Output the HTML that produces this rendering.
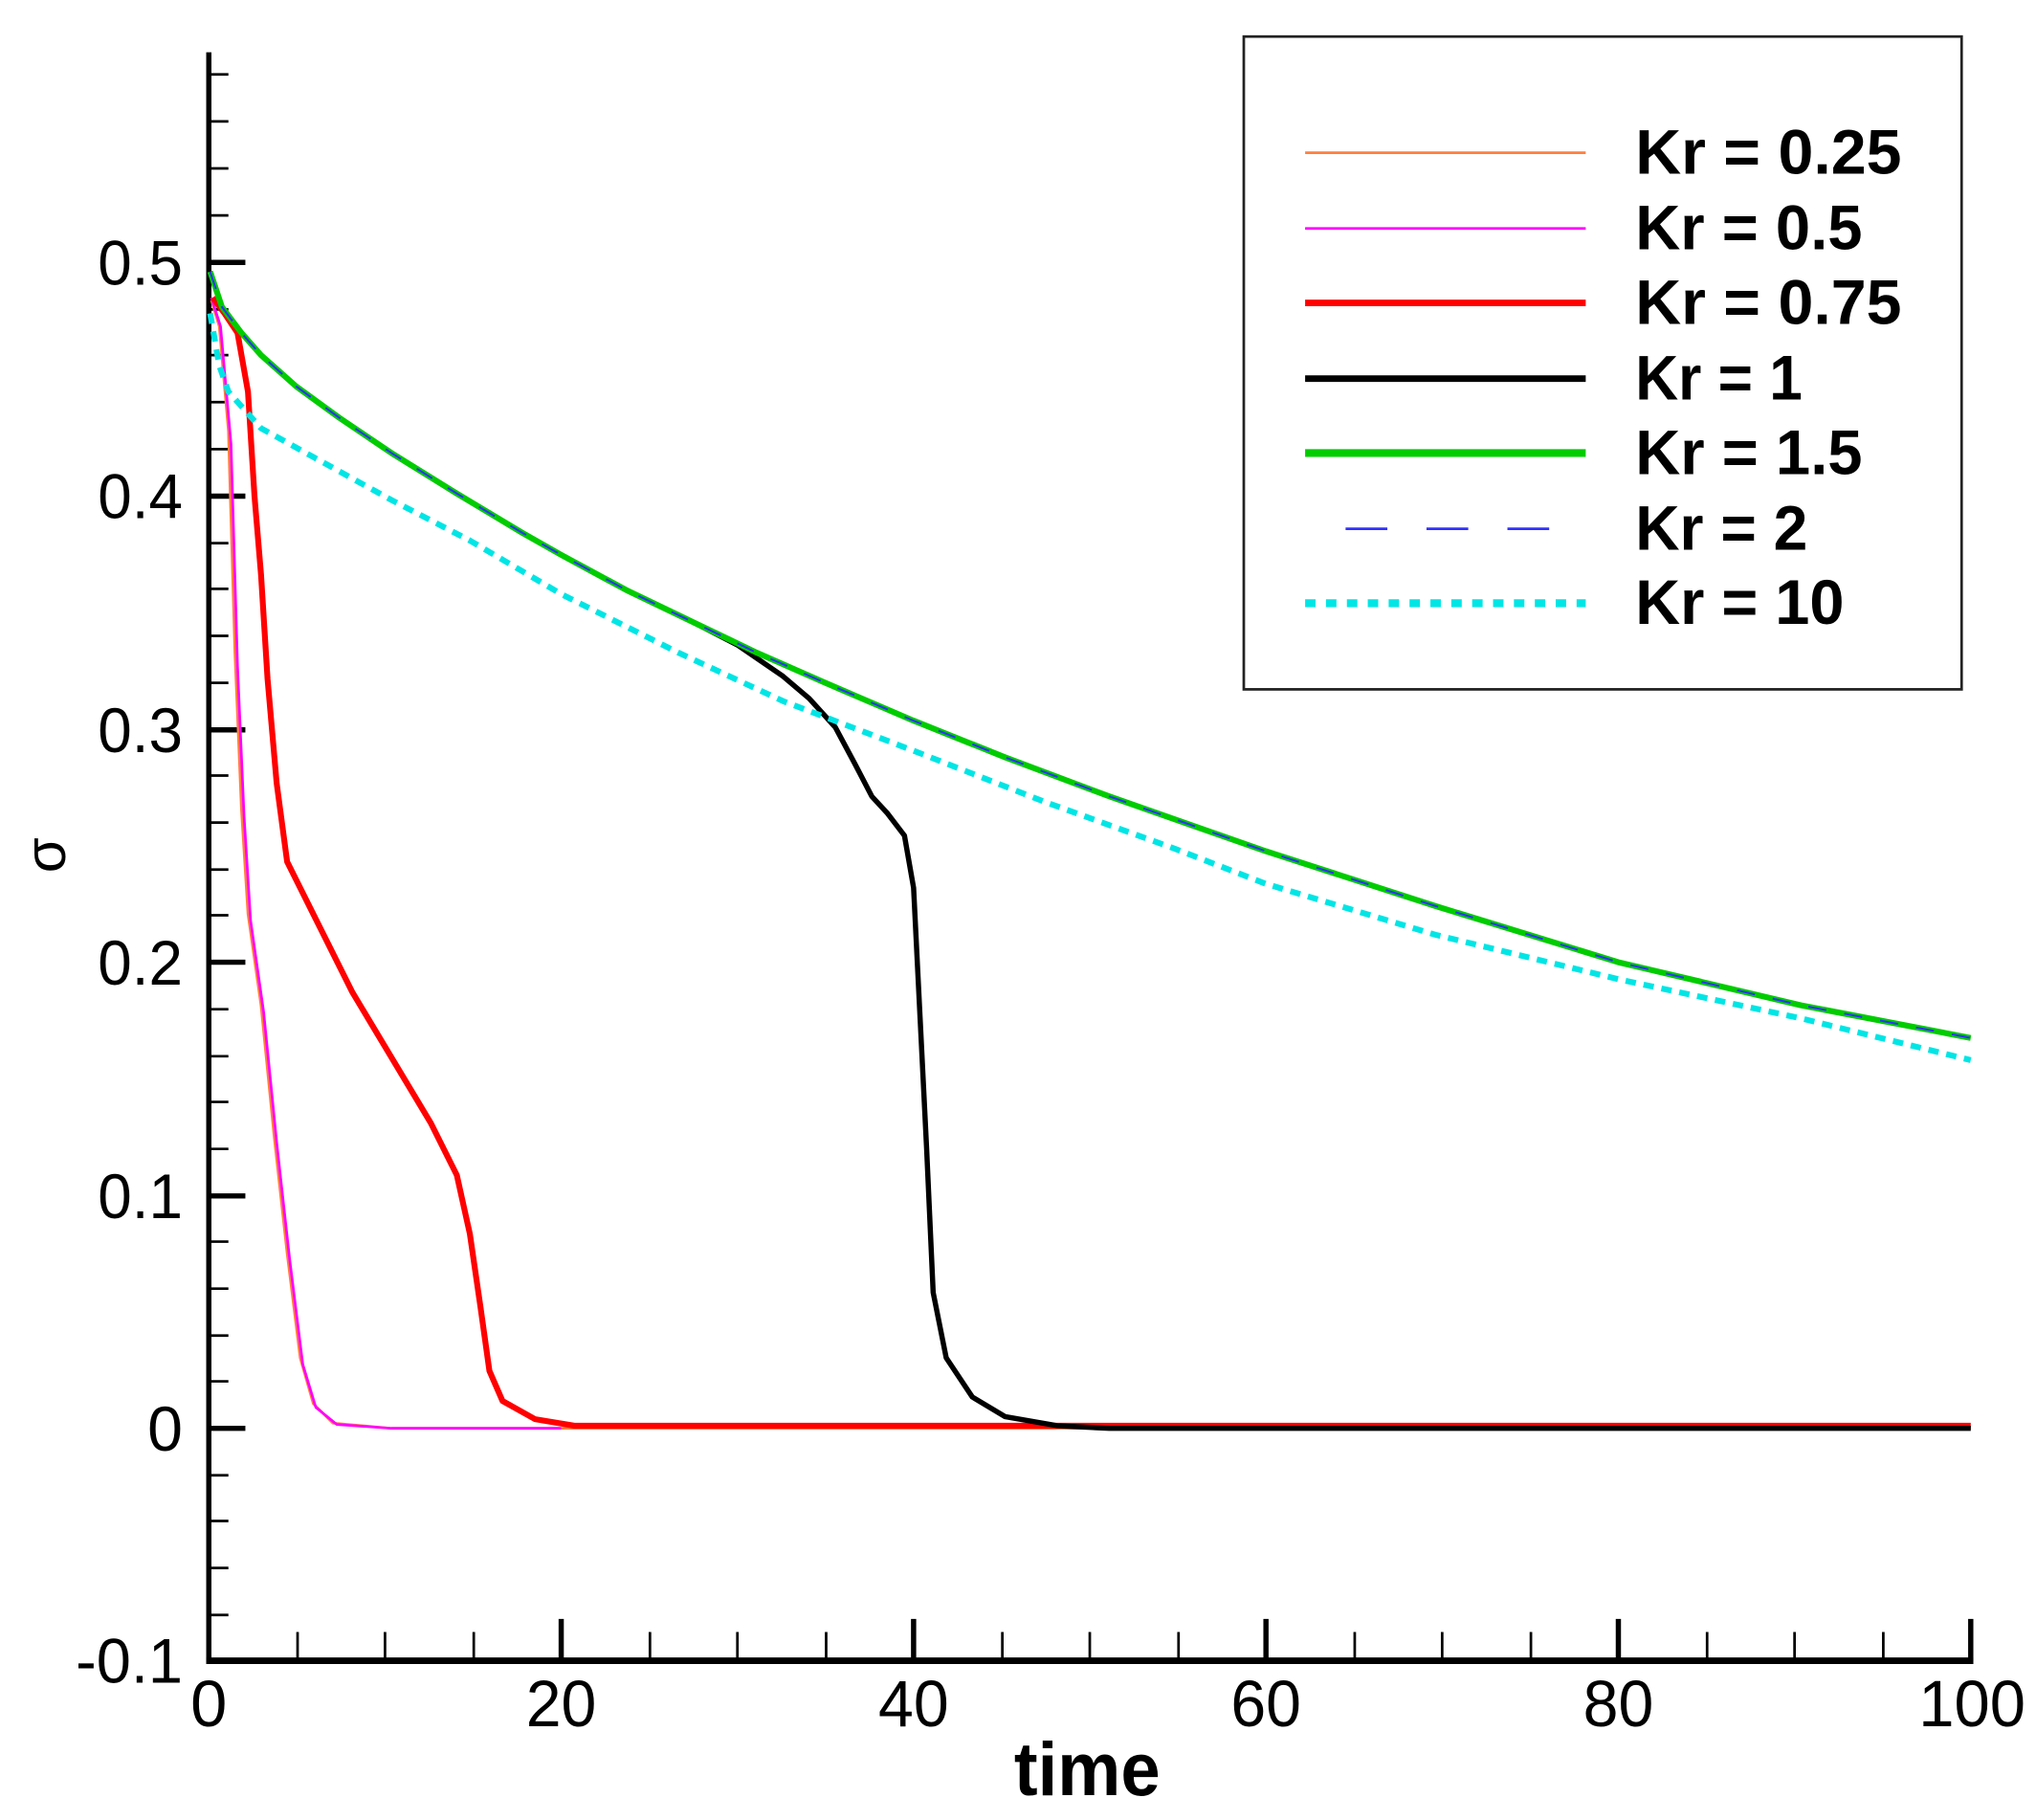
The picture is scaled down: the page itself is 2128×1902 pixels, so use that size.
<!DOCTYPE html>
<html><head><meta charset="utf-8"><style>html,body{margin:0;padding:0;background:#fff}svg{display:block}</style></head>
<body>
<svg width="2128" height="1902" viewBox="0 0 1560 1394" preserveAspectRatio="none" xmlns="http://www.w3.org/2000/svg" font-family="Liberation Sans, sans-serif">
<rect width="1560" height="1394" fill="#fff"/>
<line x1="160" y1="40" x2="160" y2="1274" stroke="#000" stroke-width="4"/>
<line x1="158" y1="1272" x2="1512" y2="1272" stroke="#000" stroke-width="5"/>
<g stroke="#000" stroke-width="2">
<line x1="160" y1="57" x2="175" y2="57"/><line x1="160" y1="93" x2="175" y2="93"/><line x1="160" y1="129" x2="175" y2="129"/><line x1="160" y1="165" x2="175" y2="165"/>
<line x1="160" y1="237" x2="175" y2="237"/><line x1="160" y1="272" x2="175" y2="272"/><line x1="160" y1="308" x2="175" y2="308"/><line x1="160" y1="344" x2="175" y2="344"/>
<line x1="160" y1="416" x2="175" y2="416"/><line x1="160" y1="451" x2="175" y2="451"/><line x1="160" y1="487" x2="175" y2="487"/><line x1="160" y1="523" x2="175" y2="523"/>
<line x1="160" y1="594" x2="175" y2="594"/><line x1="160" y1="630" x2="175" y2="630"/><line x1="160" y1="666" x2="175" y2="666"/><line x1="160" y1="701" x2="175" y2="701"/>
<line x1="160" y1="773" x2="175" y2="773"/><line x1="160" y1="809" x2="175" y2="809"/><line x1="160" y1="844" x2="175" y2="844"/><line x1="160" y1="880" x2="175" y2="880"/>
<line x1="160" y1="951" x2="175" y2="951"/><line x1="160" y1="987" x2="175" y2="987"/><line x1="160" y1="1023" x2="175" y2="1023"/><line x1="160" y1="1058" x2="175" y2="1058"/>
<line x1="160" y1="1130" x2="175" y2="1130"/><line x1="160" y1="1165" x2="175" y2="1165"/><line x1="160" y1="1201" x2="175" y2="1201"/><line x1="160" y1="1237" x2="175" y2="1237"/>
</g>
<g stroke="#000" stroke-width="4">
<line x1="160" y1="201" x2="188" y2="201"/><line x1="160" y1="380" x2="188" y2="380"/><line x1="160" y1="559" x2="188" y2="559"/><line x1="160" y1="737" x2="188" y2="737"/><line x1="160" y1="916" x2="188" y2="916"/><line x1="160" y1="1094" x2="188" y2="1094"/>
</g>
<g stroke="#000" stroke-width="2">
<line x1="228" y1="1250" x2="228" y2="1272"/><line x1="295" y1="1250" x2="295" y2="1272"/><line x1="363" y1="1250" x2="363" y2="1272"/>
<line x1="498" y1="1250" x2="498" y2="1272"/><line x1="565" y1="1250" x2="565" y2="1272"/><line x1="633" y1="1250" x2="633" y2="1272"/>
<line x1="768" y1="1250" x2="768" y2="1272"/><line x1="835" y1="1250" x2="835" y2="1272"/><line x1="903" y1="1250" x2="903" y2="1272"/>
<line x1="1038" y1="1250" x2="1038" y2="1272"/><line x1="1105" y1="1250" x2="1105" y2="1272"/><line x1="1173" y1="1250" x2="1173" y2="1272"/>
<line x1="1308" y1="1250" x2="1308" y2="1272"/><line x1="1375" y1="1250" x2="1375" y2="1272"/><line x1="1443" y1="1250" x2="1443" y2="1272"/>
</g>
<g stroke="#000" stroke-width="4">
<line x1="430" y1="1240" x2="430" y2="1272"/><line x1="700" y1="1240" x2="700" y2="1272"/><line x1="970" y1="1240" x2="970" y2="1272"/><line x1="1240" y1="1240" x2="1240" y2="1272"/><line x1="1510" y1="1240" x2="1510" y2="1272"/>
</g>
<g font-size="48" fill="#000" lengthAdjust="spacingAndGlyphs">
<text x="75" y="218" textLength="65" lengthAdjust="spacingAndGlyphs">0.5</text>
<text x="75" y="397" textLength="65" lengthAdjust="spacingAndGlyphs">0.4</text>
<text x="75" y="576" textLength="65" lengthAdjust="spacingAndGlyphs">0.3</text>
<text x="75" y="754" textLength="65" lengthAdjust="spacingAndGlyphs">0.2</text>
<text x="75" y="933" textLength="65" lengthAdjust="spacingAndGlyphs">0.1</text>
<text x="113" y="1111" textLength="27" lengthAdjust="spacingAndGlyphs">0</text>
<text x="58" y="1289" textLength="82" lengthAdjust="spacingAndGlyphs">-0.1</text>
</g>
<g font-size="50" fill="#000">
<text x="146" y="1322" textLength="28" lengthAdjust="spacingAndGlyphs">0</text>
<text x="403" y="1322" textLength="54" lengthAdjust="spacingAndGlyphs">20</text>
<text x="673" y="1322" textLength="54" lengthAdjust="spacingAndGlyphs">40</text>
<text x="943" y="1322" textLength="54" lengthAdjust="spacingAndGlyphs">60</text>
<text x="1213" y="1322" textLength="54" lengthAdjust="spacingAndGlyphs">80</text>
<text x="1470" y="1322" textLength="82" lengthAdjust="spacingAndGlyphs">100</text>
</g>
<text x="777" y="1375" font-size="58" font-weight="bold" textLength="112" lengthAdjust="spacingAndGlyphs">time</text>
<text transform="translate(50,655) rotate(-90)" font-size="44" text-anchor="middle">σ</text>
<g fill="none" stroke-linejoin="round">
<path d="M162,230 L168,250 L175,330 L180,500 L185,620 L190,700 L200,770 L210,870 L220,960 L230,1040 L240,1075 L255,1090 L300,1094 L1510,1094" stroke="#ff7f3f" stroke-width="2"/>
<path d="M162,228 L169,250 L177,340 L182,510 L187,625 L192,705 L202,775 L212,875 L222,965 L232,1045 L242,1078 L258,1091 L300,1094 L430,1094" stroke="#ff00ff" stroke-width="2"/>
<path d="M163,228 L172,240 L182,255 L190,300 L195,380 L200,440 L205,520 L212,600 L220,660 L240,700 L270,760 L300,810 L330,860 L350,900 L360,945 L368,1000 L375,1050 L385,1073 L410,1087 L440,1092 L1510,1092" stroke="#ff0000" stroke-width="4.5"/>
<path d="M161,208 L170,235 L185,255 L200,272 L227,296 L260,320 L300,347 L350,378 L400,408 L430,425 L480,452 L530,476 L565,494 L600,518 L620,535 L640,557 L655,585 L668,610 L680,623 L693,640 L700,680 L705,780 L710,880 L715,990 L725,1040 L745,1070 L770,1085 L810,1092 L850,1094 L1510,1094" stroke="#000" stroke-width="4"/>
<path d="M161,208 L170,235 L185,255 L200,272 L227,296 L260,320 L300,347 L350,378 L400,408 L430,425 L480,452 L530,476 L580,500 L630,522 L700,552 L770,580 L850,610 L970,652 L1100,694 L1240,737 L1380,770 L1510,795" stroke="#00cc00" stroke-width="4.5"/>
<path d="M161,208 L170,235 L185,255 L200,272 L227,296 L260,320 L300,347 L350,378 L400,408 L430,425 L480,452 L530,476 L580,500 L630,522 L700,552 L770,580 L850,610 L970,652 L1100,694 L1240,737 L1380,770 L1510,795" stroke="#3030ff" stroke-width="1.5" stroke-dasharray="14,14"/>
<path d="M161,240 L168,280 L175,300 L200,328 L240,350 L300,383 L360,414 L430,455 L520,500 L600,537 L700,575 L800,614 L900,650 L970,677 L1100,716 L1240,750 L1380,780 L1510,812" stroke="#00e5e5" stroke-width="4.5" stroke-dasharray="8,6"/>
</g>
<rect x="953" y="28" width="550" height="500" fill="#fff" stroke="#222" stroke-width="2"/>
<line x1="1000" y1="117" x2="1215" y2="117" stroke="#ff7f3f" stroke-width="2"/>
<line x1="1000" y1="175" x2="1215" y2="175" stroke="#ff00ff" stroke-width="2"/>
<line x1="1000" y1="232" x2="1215" y2="232" stroke="#ff0000" stroke-width="5"/>
<line x1="1000" y1="290" x2="1215" y2="290" stroke="#000" stroke-width="5"/>
<line x1="1000" y1="347" x2="1215" y2="347" stroke="#00cc00" stroke-width="6"/>
<line x1="1031" y1="405" x2="1190" y2="405" stroke="#3030ff" stroke-width="2" stroke-dasharray="32,30"/>
<line x1="1000" y1="462" x2="1215" y2="462" stroke="#00e5e5" stroke-width="6" stroke-dasharray="8,8"/>
<g font-size="48" font-weight="bold" fill="#000">
<text x="1253" y="133" textLength="204" lengthAdjust="spacingAndGlyphs">Kr = 0.25</text>
<text x="1253" y="191" textLength="174" lengthAdjust="spacingAndGlyphs">Kr = 0.5</text>
<text x="1253" y="248" textLength="204" lengthAdjust="spacingAndGlyphs">Kr = 0.75</text>
<text x="1253" y="306" textLength="128" lengthAdjust="spacingAndGlyphs">Kr = 1</text>
<text x="1253" y="363" textLength="174" lengthAdjust="spacingAndGlyphs">Kr = 1.5</text>
<text x="1253" y="421" textLength="132" lengthAdjust="spacingAndGlyphs">Kr = 2</text>
<text x="1253" y="478" textLength="160" lengthAdjust="spacingAndGlyphs">Kr = 10</text>
</g>
</svg>
</body></html>
